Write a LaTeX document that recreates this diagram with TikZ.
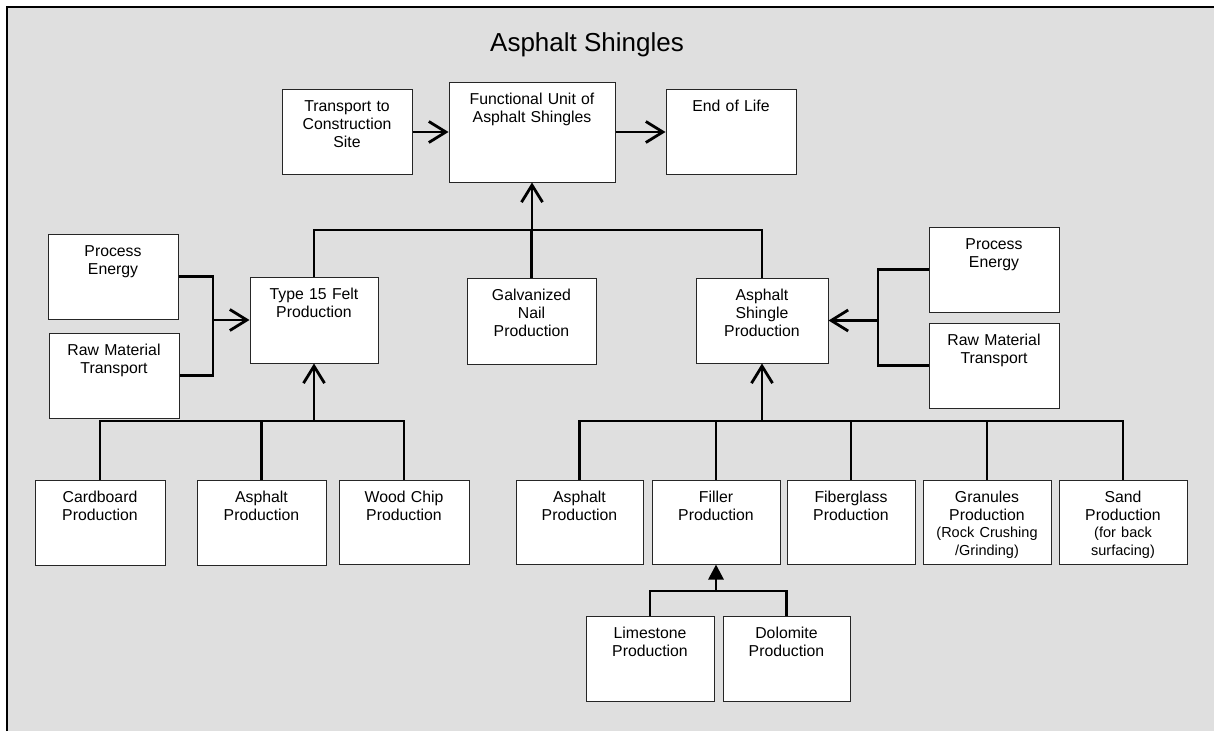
\documentclass[tikz,border=0pt]{standalone}
\usepackage{fontspec}
\setmainfont{Liberation Sans}
\usetikzlibrary{arrows.meta}
\definecolor{panel}{HTML}{DFDFDF}
\tikzset{>={Straight Barb[length=17pt,width=21pt]}}
\tikzset{box/.style={draw=black!85,line width=1pt,fill=white,inner sep=0pt,
  text width=130pt,align=center,text height=22pt,text depth=63pt,
  font=\fontsize{15.8}{18}\selectfont}}
\tikzset{link/.style={line width=2.8pt}}
\newcommand{\smalltxt}{\fontsize{14.5}{17}\selectfont}

\begin{document}
\begin{tikzpicture}[x=1pt,y=-1pt]
\useasboundingbox (0,0) rectangle (1214,731);
\fill [panel] (7,7) rectangle (1214,731);
\draw [line width=2.5pt] (7,731)--(7,7)--(1214,7);
\node [anchor=base,font=\fontsize{26}{30}\selectfont] (title) at (587,51) {Asphalt Shingles};

\node [box] (trans) at (347,132) {Transport to\\Construction\\Site};
\node [box,text width=166pt,text depth=78pt] (fu) at (532,132) {Functional Unit of\\Asphalt Shingles};
\node [box] (eol) at (731,132) {End of Life};

\node [box] (pel) at (113,276.5) {Process\\Energy};
\node [box] (rml) at (114,375.5) {Raw Material\\Transport};
\node [box,text width=128pt,text depth=64pt] (felt) at (314,320) {Type 15 Felt\\Production};
\node [box,text width=129pt,text depth=64pt] (nail) at (531.5,321) {Galvanized\\Nail\\Production};
\node [box,text width=132pt] (asp) at (762,320.5) {Asphalt\\Shingle\\Production};
\node [box] (per) at (994,269.5) {Process\\Energy};
\node [box] (rmr) at (994,365.5) {Raw Material\\Transport};

\node [box] (card) at (100,522.5) {Cardboard\\Production};
\node [box,text width=129pt] (asphl) at (261.5,523) {Asphalt\\Production};
\node [box,text depth=62pt] (wood) at (404,522) {Wood Chip\\Production};
\node [box,text width=127pt,text depth=62pt] (asphr) at (579.5,522) {Asphalt\\Production};
\node [box,text width=128pt,text depth=62pt] (filler) at (716,522) {Filler\\Production};
\node [box,text width=128pt,text depth=62pt] (fiber) at (851,522) {Fiberglass\\Production};
\node [box,text width=128pt,text depth=62pt] (gran) at (987,522) {Granules\\Production\\{\smalltxt(Rock Crushing\\/Grinding)}};
\node [box,text width=128pt,text depth=62pt] (sand) at (1123,522) {Sand\\Production\\{\smalltxt(for back\\surfacing)}};

\node [box,text width=128pt] (lime) at (650,658.5) {Limestone\\Production};
\node [box,text width=127pt] (dolo) at (786.5,658.5) {Dolomite\\Production};

\coordinate (topbus) at (532,230);
\coordinate (ljoin) at (213,320);
\coordinate (rjoin) at (878,320.5);
\coordinate (fbus) at (314,421);
\coordinate (sbus) at (762,421);
\coordinate (fillbus) at (716,591);

\draw [link,->] (trans) -- (fu);
\draw [link,->] (fu) -- (eol);

\draw [link] (felt.north) |- (topbus) -| (asp.north);
\draw [link] (nail.north) -- (nail.north |- topbus);
\draw [link,->] (topbus) -- (fu.south);

\draw [link] (pel.east) -| (ljoin) |- (rml.east);
\draw [link,->] (ljoin) -- (felt.west);
\draw [link] (per.west) -| (rjoin) |- (rmr.west);
\draw [link,->] (rjoin) -- (asp.east);

\draw [link] (card.north) |- (fbus) -| (wood.north);
\draw [link] (asphl.north) -- (asphl.north |- fbus);
\draw [link,->] (fbus) -- (felt.south);

\draw [link] (asphr.north) |- (sbus) -| (sand.north);
\draw [link] (filler.north) -- (filler.north |- sbus);
\draw [link] (fiber.north) -- (fiber.north |- sbus);
\draw [link] (gran.north) -- (gran.north |- sbus);
\draw [link,->] (sbus) -- (asp.south);

\draw [link] (lime.north) |- (fillbus) -| (dolo.north);
\draw [link,-{Triangle[length=15pt,width=15pt]}] (fillbus) -- (filler.south);
\end{tikzpicture}
\end{document}
